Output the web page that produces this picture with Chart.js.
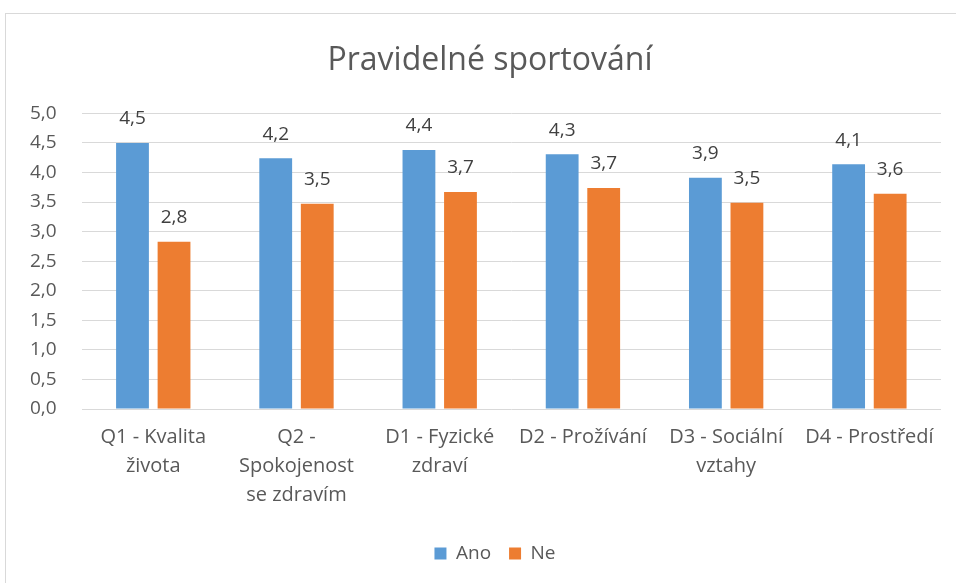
<!DOCTYPE html>
<html>
<head>
<meta charset="utf-8">
<script src="https://cdn.jsdelivr.net/npm/chart.js@4.4.0/dist/chart.umd.min.js"></script>
<style>
  html, body { margin: 0; padding: 0; background: #ffffff; }
  #frame { position: absolute; left: 5px; top: 13px; width: 1000px; height: 700px; border: 1px solid #d9d9d9; box-sizing: border-box; }
  #wrap { position: absolute; left: 0; top: 0; width: 956px; height: 583px; }
</style>
</head>
<body>
<div id="frame"></div>
<div id="wrap"><canvas id="c" width="956" height="583"></canvas></div>
<script>
const categories = [
  ["Q1 - Kvalita", "života"],
  ["Q2 -", "Spokojenost", "se zdravím"],
  ["D1 - Fyzické", "zdraví"],
  ["D2 - Prožívání"],
  ["D3 - Sociální", "vztahy"],
  ["D4 - Prostředí"]
];
const seriesNames = ["Ano", "Ne"];
const anoValues = [4.50, 4.24, 4.38, 4.31, 3.91, 4.14];
const neValues = [2.83, 3.47, 3.67, 3.74, 3.49, 3.64];
const yTicks = [0, 0.5, 1, 1.5, 2, 2.5, 3, 3.5, 4, 4.5, 5];

const FONT = "'Open Sans', Lato, sans-serif";
const TXT = "#595959";

const fmt = v => v.toFixed(1).replace(".", ",");

const dataLabels = {
  id: "dataLabels",
  afterDatasetsDraw(chart) {
    const ctx = chart.ctx;
    ctx.save();
    ctx.font = "19px " + FONT;
    ctx.fillStyle = "#404040";
    ctx.textAlign = "center";
    ctx.textBaseline = "middle";
    chart.data.datasets.forEach((ds, i) => {
      const meta = chart.getDatasetMeta(i);
      meta.data.forEach((bar, j) => {
        ctx.fillText(fmt(ds.data[j]), bar.x, bar.y - 24);
      });
    });
    ctx.restore();
  }
};

// Centre title and legend on the outer chart frame (which extends past the right edge)
const frameCentre = {
  id: "frameCentre",
  afterLayout(chart) {
    if (chart.titleBlock) chart.titleBlock.left += 34;
    if (chart.legend) chart.legend.left += 44;
  }
};

new Chart(document.getElementById("c"), {
  type: "bar",
  data: {
    labels: categories,
    datasets: [
      { label: seriesNames[0], data: anoValues, backgroundColor: "#5B9BD5", categoryPercentage: 0.58, barPercentage: 0.79 },
      { label: seriesNames[1], data: neValues, backgroundColor: "#ED7D31", categoryPercentage: 0.58, barPercentage: 0.79 }
    ]
  },
  options: {
    responsive: false,
    animation: false,
    layout: { padding: { left: 5, right: 15, top: 32, bottom: 10 } },
    plugins: {
      title: {
        display: true,
        text: "Pravidelné sportování",
        color: TXT,
        font: { family: FONT, size: 32, weight: "normal" },
        padding: { top: 10, bottom: 33 }
      },
      legend: {
        position: "bottom",
        labels: {
          color: TXT,
          font: { family: FONT, size: 19 },
          boxWidth: 12,
          boxHeight: 12,
          padding: 18
        }
      },
      tooltip: { enabled: false }
    },
    scales: {
      x: {
        grid: { display: false },
        border: { display: false },
        afterFit(axis) { axis.height += 10; },
        ticks: {
          color: TXT,
          font: { family: FONT, size: 20, lineHeight: 1.45 },
          maxRotation: 0,
          autoSkip: false,
          padding: 6
        }
      },
      y: {
        min: 0,
        max: 5,
        afterBuildTicks(axis) { axis.ticks = yTicks.map(v => ({ value: v })); },
        grid: { color: "#d9d9d9", lineWidth: 1, drawTicks: false },
        border: { display: false },
        ticks: {
          color: TXT,
          font: { family: FONT, size: 19 },
          padding: 25,
          callback: v => fmt(v)
        }
      }
    }
  },
  plugins: [dataLabels, frameCentre]
});
</script>
</body>
</html>
